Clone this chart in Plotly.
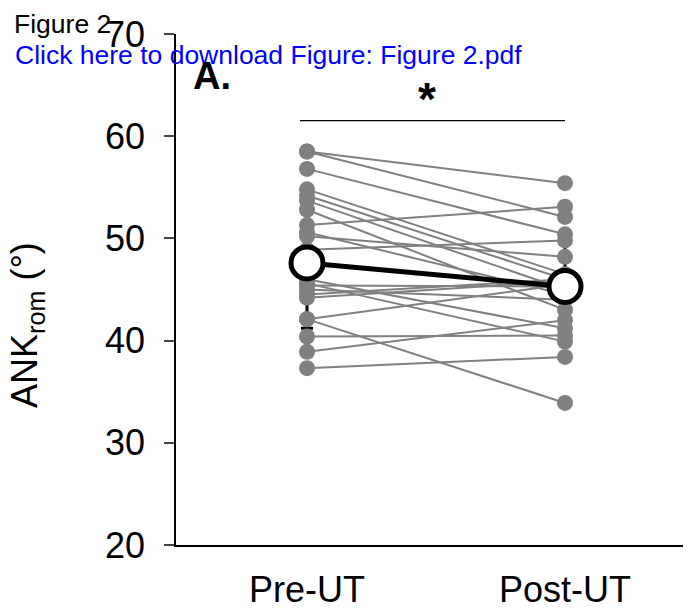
import plotly.graph_objects as go

conditions = ["Pre-UT", "Post-UT"]
pre = [58.5, 58.5, 56.8, 54.8, 54.2, 53.7, 52.8, 51.3, 50.6, 50.2, 48.9,
       46.0, 45.6, 45.4, 45.0, 44.5, 44.2, 42.1, 42.1, 40.4, 38.9, 37.3]
post = [55.4, 52.1, 50.4, 46.5, 46.0, 45.0, 43.0, 53.1, 44.5, 48.2, 49.8,
        41.2, 39.9, 45.3, 44.0, 46.0, 45.8, 33.9, 45.5, 40.5, 42.0, 38.4]
means = [47.6, 45.3]
sds = [6.4, 4.9]
y_ticks = [20, 30, 40, 50, 60, 70]

# page-pixel helpers (plot area spans x 176..691, y 34..545 in the page)
def px(x):
    return (x - 176) / 515

def py(y):
    return (545 - y) / 511

xs, ys = [], []
for a, b in zip(pre, post):
    xs += [0, 1, None]
    ys += [a, b, None]

fig = go.Figure()
fig.add_trace(go.Scatter(
    x=[0, 1], y=means, mode="markers",
    marker=dict(size=1, color="rgba(0,0,0,0)"),
    error_y=dict(type="data", array=sds, color="black", thickness=3, width=6),
    showlegend=False, hoverinfo="skip"))
fig.add_trace(go.Scatter(
    x=xs, y=ys, mode="lines+markers",
    line=dict(color="#808080", width=2),
    marker=dict(color="#808080", size=16),
    showlegend=False))
fig.add_trace(go.Scatter(
    x=[0, 1], y=means, mode="lines+markers",
    line=dict(color="black", width=5),
    marker=dict(color="white", size=32, line=dict(color="black", width=5)),
    showlegend=False))

fig.add_shape(type="line", xref="x", yref="y", x0=-0.027, x1=1.0, y0=61.52, y1=61.52,
              line=dict(color="black", width=1.2))
fig.add_annotation(x=px(427), y=py(99), xref="paper", yref="paper", text="<b>*</b>",
                   showarrow=False, xanchor="center", yanchor="middle",
                   font=dict(size=46, color="black", family="Liberation Sans"))

fig.add_annotation(x=px(12), y=py(24), xref="paper", yref="paper", text="Figure 2",
                   showarrow=False, xanchor="left", yanchor="middle",
                   font=dict(size=26.5, color="black", family="Liberation Sans"))
fig.add_annotation(x=px(13), y=py(55), xref="paper", yref="paper",
                   text="Click here to download Figure: Figure 2.pdf",
                   showarrow=False, xanchor="left", yanchor="middle",
                   font=dict(size=26.5, color="blue", family="Liberation Sans"))
fig.add_annotation(x=px(191), y=py(76), xref="paper", yref="paper",
                   text="<b>A.</b>", showarrow=False, xanchor="left", yanchor="middle",
                   font=dict(size=38, color="black", family="Liberation Sans"))
fig.add_annotation(x=px(27), y=py(325), xref="paper", yref="paper",
                   text="ANK<sub>rom</sub> (°)", textangle=-90, showarrow=False,
                   xanchor="center", yanchor="middle",
                   font=dict(size=36, color="black", family="Liberation Sans"))

fig.update_layout(
    width=683, height=601,
    margin=dict(l=168, r=0, t=26, b=64),
    paper_bgcolor="white", plot_bgcolor="white",
    font=dict(family="Liberation Sans", color="black"),
    xaxis=dict(range=[-0.5078, 1.4884], tickvals=[0, 1], ticktext=conditions,
               showline=True, linecolor="black", linewidth=1.5, ticks="",
               showgrid=False, zeroline=False, tickfont=dict(size=36),
               ticklabelstandoff=12),
    yaxis=dict(range=[20, 70], tickvals=y_ticks, showline=True, linecolor="black",
               linewidth=1.5, ticks="outside", ticklen=10, tickwidth=1.5,
               showgrid=False, zeroline=False, tickfont=dict(size=36),
               ticklabelstandoff=12),
)

fig.write_html("out.html")
